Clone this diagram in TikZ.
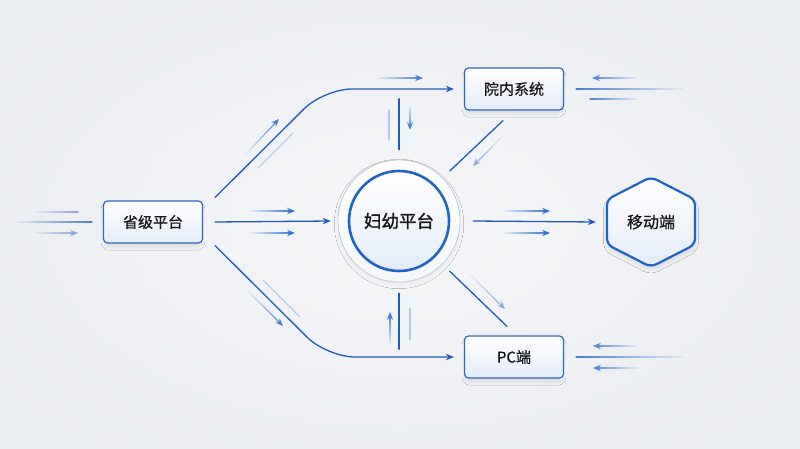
\documentclass[tikz,border=0pt]{standalone}
\usepackage{fontspec}
\newfontfamily\cjk[FakeBold=0.7]{Noto Sans CJK SC}
\newfontfamily\cjkb[FakeBold=1.6]{Noto Sans CJK SC}
\usetikzlibrary{arrows.meta,fadings,shadows.blur,calc}
\definecolor{bgc}{HTML}{E9ECF0}
\definecolor{bgl}{HTML}{F5F6F8}
\definecolor{lineblue}{HTML}{1F5CB8}
\definecolor{arrblue}{HTML}{2B6FD0}
\definecolor{faint}{HTML}{86A8DA}
\definecolor{boxblue}{HTML}{2D68BC}
\definecolor{hubblue}{HTML}{1E63C9}
\definecolor{ringc}{HTML}{C9D1DD}
\definecolor{txt}{HTML}{161616}
\definecolor{fillb}{HTML}{E3ECF9}
\definecolor{shc}{HTML}{5A7090}
\tikzfading[name=fl, left color=transparent!95, right color=transparent!0]
\tikzfading[name=fr, left color=transparent!0, right color=transparent!95]
\tikzfading[name=fu, top color=transparent!95, bottom color=transparent!0]
\tikzfading[name=fd, top color=transparent!0, bottom color=transparent!95]
\begin{document}
\begin{tikzpicture}[x=1pt,y=-1pt, line cap=round,
  mainline/.style={draw=lineblue, line width=1.3pt},
  tipa/.style={-{Stealth[length=8pt,width=6.5pt]}},
  parl/.style={draw=arrblue, line width=1.6pt},
  faintl/.style={draw=faint, line width=1.2pt},
  box/.style={draw=boxblue, line width=1.2pt, rounded corners=4pt,
    minimum width=99pt, minimum height=42pt, top color=white, bottom color=fillb,
    font=\cjk\fontsize{15}{18}\selectfont, text=txt,
    blur shadow={shadow blur steps=8, shadow xshift=0pt, shadow yshift=-4pt, shadow opacity=10, shadow blur radius=4pt, shadow scale=0.97, shadow blur extra rounding=3pt}},
  hub/.style={circle, draw=hubblue, line width=2.6pt, minimum size=100pt,
    top color=white, bottom color=fillb, font=\cjkb\fontsize{17.5}{20}\selectfont, text=txt},
  hexpath/.style={draw=hubblue, line width=2.2pt, rounded corners=6pt, top color=white, bottom color=fillb,
    blur shadow={shadow blur steps=8, shadow xshift=0pt, shadow yshift=-4pt, shadow opacity=12, shadow blur radius=5pt, shadow scale=0.97}},
  ringst/.style={draw=ringc, line width=0.8pt, top color=white, bottom color=bgc!50!white,
    blur shadow={shadow blur steps=8, shadow xshift=0pt, shadow yshift=-3pt, shadow opacity=7, shadow blur radius=5pt, shadow scale=0.98}},
  lbl/.style={font=\cjk\fontsize{16}{19}\selectfont, text=txt}
]
\useasboundingbox (0,0) rectangle (800,449);
% background
\fill[bgc] (0,0) rectangle (800,449);
\shade[inner color=bgl, outer color=bgc] (-100,-60) rectangle (900,509);

% nodes
\node[box] (sheng) at (153,222) {省级平台};
\node[box] (yuan) at (514,89) {院内系统};
\node[box] (pc) at (514,357) {PC端};
\fill[ringst] (399,221) circle[radius=61];
\node[hub] (fy) at (399,221) {妇幼平台};
\coordinate (mobc) at (651,222);
\path[hexpath] ($(mobc)+(0,-45)$) -- ($(mobc)+(44,-22.5)$) -- ($(mobc)+(44,22.5)$) -- ($(mobc)+(0,45)$)
   -- ($(mobc)+(-44,22.5)$) -- ($(mobc)+(-44,-22.5)$) -- cycle;
\node[lbl, minimum width=88pt, minimum height=90pt, inner sep=0pt] (mob) at (mobc) {移动端};

% main connectors
\draw[mainline, tipa, rounded corners=28pt] ([xshift=12pt,yshift=3pt]sheng.north east) -- (324,89) -- ([xshift=-10pt]yuan.west);
\draw[mainline, tipa, rounded corners=28pt] ([xshift=12pt,yshift=-2pt]sheng.south east) -- (327,357) -- ([xshift=-10pt]pc.west);
\draw[mainline, tipa] ([xshift=12pt]sheng.east) -- ([xshift=-17pt]fy.west);
\draw[mainline, tipa] ([xshift=23pt]fy.east) -- ([xshift=-11pt]mob.west);
\draw[mainline] ([yshift=20pt]fy.north) -- ++(0,-51);
\draw[mainline] ([yshift=-21pt]fy.south) -- ++(0,56);
\draw[mainline, shorten >=20pt] ([xshift=-11pt,yshift=-10pt]yuan.south) -- (fy.45);
\draw[mainline, shorten <=20pt] (fy.-45) -- ([xshift=-7pt,yshift=9pt]pc.north);

% decorative coordinates
\coordinate (l1a) at (33,212);  \coordinate (l1b) at (78,212);
\coordinate (l2a) at (15,222);
\coordinate (l3a) at (33,233);  \coordinate (l3b) at (78,233);
\coordinate (p1a) at (250,211); \coordinate (p1b) at (295,211);
\coordinate (p2a) at (250,233); \coordinate (p2b) at (295,233);
\coordinate (q1a) at (503,211); \coordinate (q1b) at (550,211);
\coordinate (q2a) at (503,233); \coordinate (q2b) at (550,233);
\coordinate (t1a) at (378,78);  \coordinate (t1b) at (423,78);
\coordinate (u1a) at (245,155); \coordinate (u1b) at (279,119);
\coordinate (u2a) at (258,168); \coordinate (u2b) at (293,133);
\coordinate (v1a) at (248,291); \coordinate (v1b) at (283,326);
\coordinate (v2a) at (263,280); \coordinate (v2b) at (300,317);
\coordinate (w1a) at (389,110); \coordinate (w1b) at (389,140);
\coordinate (w2a) at (410,106); \coordinate (w2b) at (410,130);
\coordinate (x1a) at (503,136); \coordinate (x1b) at (473,166);
\coordinate (y1a) at (468,273); \coordinate (y1b) at (505,309);
\coordinate (z1a) at (390,344); \coordinate (z1b) at (390,312);
\coordinate (z2a) at (410,308); \coordinate (z2b) at (410,340);
\coordinate (r1a) at (637,78);  \coordinate (r1b) at (592,78);
\coordinate (r2b) at (683,89);
\coordinate (r3a) at (590,99);  \coordinate (r3b) at (637,99);
\coordinate (s1a) at (637,346); \coordinate (s1b) at (593,346);
\coordinate (s2b) at (683,357);
\coordinate (s3a) at (637,368); \coordinate (s3b) at (593,368);

% left of provincial platform
\draw[faintl, path fading=fl] ([yshift=3pt]l1a) ([yshift=-3pt]l1a) (l1a) -- (l1b);
\draw[faintl, draw=arrblue!70!faint, path fading=fl] ([yshift=3pt]l2a) ([yshift=-3pt]l2a) (l2a) -- ([xshift=-11pt]sheng.west);
\draw[faintl, tipa, path fading=fl] ([yshift=3pt]l3a) ([yshift=-3pt]l3a) (l3a) -- (l3b);

% parallel arrows
\draw[parl, tipa, path fading=fl] ([yshift=3pt]p1a) ([yshift=-3pt]p1a) (p1a) -- (p1b);
\draw[parl, tipa, path fading=fl] ([yshift=3pt]p2a) ([yshift=-3pt]p2a) (p2a) -- (p2b);
\draw[parl, tipa, path fading=fl] ([yshift=3pt]q1a) ([yshift=-3pt]q1a) (q1a) -- (q1b);
\draw[parl, tipa, path fading=fl] ([yshift=3pt]q2a) ([yshift=-3pt]q2a) (q2a) -- (q2b);
\draw[parl, draw=arrblue!80!faint, line width=1.3pt, tipa, path fading=fl] ([yshift=3pt]t1a) ([yshift=-3pt]t1a) (t1a) -- (t1b);

% diagonal decorations
\draw[faintl, draw=arrblue!75!faint, tipa, path fading=fl] (u1a) -- (u1b);
\draw[faintl, opacity=0.5] (u2a) -- (u2b);
\draw[faintl, draw=arrblue!75!faint, tipa, path fading=fl] (v1a) -- (v1b);
\draw[faintl, opacity=0.5] (v2a) -- (v2b);
\draw[faintl, tipa, path fading=fr] (x1a) -- (x1b);
\draw[faintl, tipa, path fading=fl] (y1a) -- (y1b);

% vertical decorations
\draw[faintl, opacity=0.55] (w1a) -- (w1b);
\draw[faintl, draw=arrblue!80!faint, tipa, path fading=fu] ([xshift=3pt]w2a) ([xshift=-3pt]w2a) (w2a) -- (w2b);
\draw[faintl, draw=arrblue!80!faint, tipa, path fading=fd] ([xshift=3pt]z1a) ([xshift=-3pt]z1a) (z1a) -- (z1b);
\draw[faintl, opacity=0.55] (z2a) -- (z2b);

% right side decorations
\draw[faintl, draw=arrblue!60!faint, line width=1.4pt, tipa, path fading=fr] ([yshift=3pt]r1a) ([yshift=-3pt]r1a) (r1a) -- (r1b);
\draw[faintl, draw=arrblue!70!faint, line width=1.4pt, path fading=fr] ([yshift=3pt]r2b) ([yshift=-3pt]r2b) ([xshift=12pt]yuan.east) -- (r2b);
\draw[faintl, draw=arrblue!60!faint, line width=1.4pt, path fading=fr] ([yshift=3pt]r3a) ([yshift=-3pt]r3a) (r3a) -- (r3b);
\draw[faintl, draw=arrblue!60!faint, line width=1.4pt, tipa, path fading=fr] ([yshift=3pt]s1a) ([yshift=-3pt]s1a) (s1a) -- (s1b);
\draw[faintl, draw=arrblue!70!faint, line width=1.4pt, path fading=fr] ([yshift=3pt]s2b) ([yshift=-3pt]s2b) ([xshift=12pt]pc.east) -- (s2b);
\draw[faintl, draw=arrblue!60!faint, line width=1.4pt, tipa, path fading=fr] ([yshift=3pt]s3a) ([yshift=-3pt]s3a) (s3a) -- (s3b);
\end{tikzpicture}
\end{document}
